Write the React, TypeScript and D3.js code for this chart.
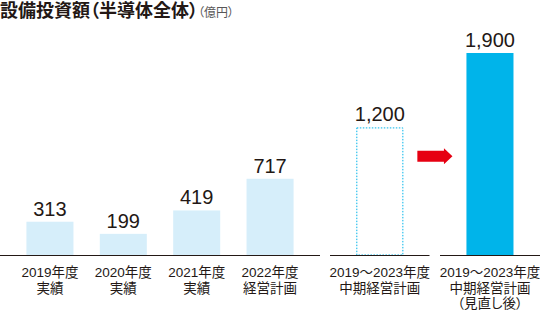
import React from "react";
import * as d3 from "d3";

const categoryLines: string[][] = [
  ["2019年度", "実績"],
  ["2020年度", "実績"],
  ["2021年度", "実績"],
  ["2022年度", "経営計画"],
  ["2019～2023年度", "中期経営計画"],
  ["2019～2023年度", "中期経営計画", "（見直し後）"],
];
const values: number[] = [313, 199, 419, 717, 1200, 1900];
const groupOf: number[] = [0, 0, 0, 0, 1, 2];
const barKind: string[] = ["light", "light", "light", "light", "dotted", "solid"];

const W = 540;
const H = 312;
const baseY = 255;
const topY = 53;
const groupRanges: [number, number][] = [
  [0, 320],
  [330, 429.5],
  [440, 540],
];

const INK = "#231815";
const LIGHT = "#d6eefa";
const BLUE = "#00b4ea";
const RED = "#e60012";

export default function App() {
  const y = d3.scaleLinear().domain([0, 1900]).range([baseY, topY]);
  const fmt = d3.format(",");
  const scales = groupRanges.map((r, gi) =>
    d3
      .scaleBand<number>()
      .domain(values.map((_, i) => i).filter((i) => groupOf[i] === gi))
      .range(r)
      .paddingInner(0.359)
      .paddingOuter(0.36)
  );
  const xOf = (i: number) => scales[groupOf[i]](i) as number;
  const bw = scales[0].bandwidth();

  const iBox = 4;
  const iRev = 5;
  const arrowX0 = xOf(iBox) + bw + 14;
  const arrowX1 = xOf(iRev) - 14;
  const arrowY = y(930);
  const headLen = 8.5;
  const shaftH = 11;
  const headH = 16;
  const arrowPath = d3.path();
  arrowPath.moveTo(arrowX0, arrowY - shaftH / 2);
  arrowPath.lineTo(arrowX1 - headLen, arrowY - shaftH / 2);
  arrowPath.lineTo(arrowX1 - headLen, arrowY - headH / 2);
  arrowPath.lineTo(arrowX1, arrowY);
  arrowPath.lineTo(arrowX1 - headLen, arrowY + headH / 2);
  arrowPath.lineTo(arrowX1 - headLen, arrowY + shaftH / 2);
  arrowPath.lineTo(arrowX0, arrowY + shaftH / 2);
  arrowPath.closePath();

  const numFont = "'Liberation Sans', Arial, Helvetica, sans-serif";
  const jpFont = "'Liberation Sans', Arial, 'Noto Sans CJK JP', sans-serif";

  return (
    <svg
      width={W}
      height={H}
      viewBox={`0 0 ${W} ${H}`}
      style={{ position: "absolute", left: 0, top: 0, background: "#fff" }}
    >
      <text
        x={0}
        y={17}
        fontFamily="'Noto Sans CJK JP', sans-serif"
        fontWeight={700}
        fontSize={18}
        fill={INK}
      >
        <tspan>設備投資額</tspan>
        <tspan style={{ fontFeatureSettings: '"palt"' }}>（</tspan>
        <tspan>半導体全体</tspan>
        <tspan style={{ fontFeatureSettings: '"palt"' }}>）</tspan>
      </text>
      <text
        x={198}
        y={16.5}
        fontFamily="'Noto Sans CJK JP', sans-serif"
        fontSize={12}
        fill="#595757"
        style={{ fontFeatureSettings: '"palt"' }}
      >
        （億円）
      </text>

      {values.map((v, i) => {
        const x = xOf(i);
        const kind = barKind[i];
        if (kind === "dotted") {
          return (
            <rect
              key={i}
              x={x + 0.5}
              y={y(v) + 0.5}
              width={bw - 1}
              height={baseY - y(v) - 0.5}
              fill="none"
              stroke={BLUE}
              strokeWidth={1}
              strokeDasharray="1.5 1.5"
            />
          );
        }
        return (
          <rect
            key={i}
            x={x}
            y={y(v)}
            width={bw}
            height={baseY - y(v)}
            fill={kind === "solid" ? BLUE : LIGHT}
          />
        );
      })}

      {groupRanges.map((r, gi) => (
        <line key={gi} x1={r[0]} x2={r[1]} y1={baseY + 0.5} y2={baseY + 0.5} stroke={INK} strokeWidth={1} />
      ))}

      {values.map((v, i) => (
        <text
          key={i}
          x={xOf(i) + bw / 2}
          y={y(v) - 6}
          textAnchor="middle"
          fontFamily={numFont}
          fontSize={20}
          fill={INK}
        >
          {fmt(v)}
        </text>
      ))}

      {categoryLines.map((lines, i) => (
        <text
          key={i}
          x={xOf(i) + bw / 2}
          textAnchor="middle"
          fontFamily={jpFont}
          fontSize={13.5}
          fill={INK}
        >
          {lines.map((ln, j) => (
            <tspan
              key={j}
              x={xOf(i) + bw / 2}
              y={277 + j * 15.5}
              style={ln.startsWith("（") ? { fontFeatureSettings: '"palt"' } : undefined}
            >
              {ln}
            </tspan>
          ))}
        </text>
      ))}

      <path d={arrowPath.toString()} fill={RED} />
    </svg>
  );
}
